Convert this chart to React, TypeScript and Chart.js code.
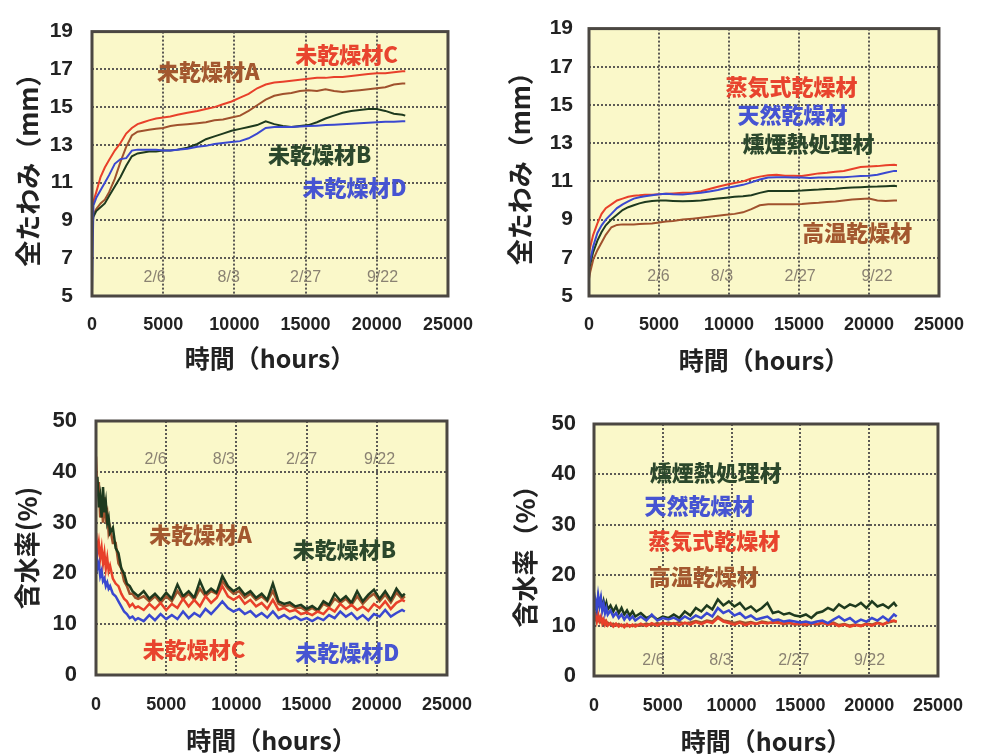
import React, { useEffect, useRef } from 'react';
import { Chart, registerables } from 'chart.js';

Chart.register(...registerables);

// ---------- shared axes ----------
const X_TICKS = [0, 5000, 10000, 15000, 20000, 25000];
const DEFL_Y_TICKS = [5, 7, 9, 11, 13, 15, 17, 19];
const MC_Y_TICKS = [0, 10, 20, 30, 40, 50];
const DATE_LABELS = ['2/6', '8/3', '2/27', '9/22'];

// ---------- deflection (top) ----------
const TOP_HOURS = [0, 100, 300, 600, 900, 1200, 1600, 2000, 2400, 2800, 3200, 3600, 4000, 4500, 5000, 5500, 6000, 6700, 7400, 8000, 8600, 9200, 9800, 10400, 11000, 11600, 12200, 12800, 13400, 14000, 14600, 15200, 15800, 16400, 17000, 17600, 18200, 18800, 19400, 20000, 20600, 21200, 21800, 22000];

const DEFL_UNDRIED_A = [8.8, 9.3, 9.6, 9.9, 10.1, 10.5, 11.2, 12.1, 12.9, 13.5, 13.7, 13.75, 13.8, 13.85, 13.9, 14.0, 14.05, 14.1, 14.15, 14.2, 14.3, 14.35, 14.45, 14.55, 14.8, 15.1, 15.4, 15.6, 15.7, 15.75, 15.85, 15.9, 15.85, 15.95, 15.85, 15.8, 15.85, 15.9, 15.95, 16.0, 16.05, 16.2, 16.25, 16.25];
const DEFL_UNDRIED_B = [8.6, 9.2, 9.5, 9.7, 9.9, 10.3, 10.8, 11.3, 11.9, 12.4, 12.55, 12.6, 12.65, 12.65, 12.7, 12.7, 12.75, 12.85, 13.05, 13.3, 13.45, 13.6, 13.75, 13.85, 13.95, 14.05, 14.25, 14.1, 14.0, 13.95, 14.0, 14.05, 14.2, 14.4, 14.55, 14.7, 14.8, 14.85, 14.9, 14.9, 14.8, 14.65, 14.6, 14.55];
const DEFL_UNDRIED_C = [9.6, 10.0, 10.5, 11.3, 11.8, 12.2, 12.7, 13.1, 13.6, 13.9, 14.1, 14.2, 14.3, 14.4, 14.45, 14.5, 14.6, 14.7, 14.8, 14.9, 15.0, 15.15, 15.3, 15.5, 15.7, 16.0, 16.2, 16.3, 16.35, 16.4, 16.45, 16.5, 16.55, 16.55, 16.6, 16.6, 16.65, 16.7, 16.75, 16.8, 16.8, 16.85, 16.9, 16.9];
const DEFL_UNDRIED_D = [5.2, 9.8, 10.2, 10.6, 11.0, 11.4, 12.0, 12.25, 12.3, 12.7, 12.75, 12.75, 12.75, 12.75, 12.7, 12.7, 12.75, 12.8, 12.9, 12.95, 13.05, 13.1, 13.15, 13.2, 13.35, 13.6, 13.9, 13.95, 13.95, 13.95, 13.97, 14.0, 14.02, 14.05, 14.07, 14.1, 14.12, 14.15, 14.17, 14.2, 14.22, 14.23, 14.25, 14.25];

const DEFL_STEAM = [7.3, 7.6, 8.2, 8.8, 9.3, 9.6, 9.8, 10.0, 10.1, 10.2, 10.25, 10.27, 10.3, 10.3, 10.33, 10.35, 10.37, 10.4, 10.42, 10.48, 10.6, 10.72, 10.82, 10.92, 11.0, 11.15, 11.25, 11.32, 11.35, 11.3, 11.3, 11.28, 11.35, 11.42, 11.45, 11.5, 11.55, 11.65, 11.75, 11.78, 11.8, 11.85, 11.87, 11.85];
const DEFL_NATURAL = [6.6, 6.9, 7.6, 8.3, 8.7, 9.0, 9.3, 9.6, 9.8, 9.95, 10.1, 10.17, 10.22, 10.28, 10.33, 10.35, 10.33, 10.32, 10.36, 10.4, 10.47, 10.55, 10.65, 10.73, 10.82, 10.95, 11.1, 11.2, 11.22, 11.22, 11.2, 11.2, 11.18, 11.2, 11.2, 11.22, 11.22, 11.25, 11.28, 11.3, 11.35, 11.45, 11.55, 11.55];
const DEFL_SMOKE = [6.4, 6.7, 7.3, 7.9, 8.35, 8.7, 9.0, 9.25, 9.5, 9.65, 9.75, 9.85, 9.92, 9.97, 10.0, 10.0, 9.98, 9.96, 9.98, 10.0, 10.05, 10.1, 10.15, 10.2, 10.22, 10.28, 10.4, 10.5, 10.5, 10.5, 10.5, 10.52, 10.55, 10.57, 10.6, 10.62, 10.65, 10.68, 10.7, 10.72, 10.73, 10.75, 10.77, 10.75];
const DEFL_HIGHTEMP = [5.9, 6.3, 6.9, 7.4, 7.8, 8.2, 8.6, 8.72, 8.75, 8.75, 8.75, 8.77, 8.78, 8.8, 8.85, 8.9, 8.93, 9.0, 9.05, 9.1, 9.15, 9.2, 9.25, 9.3, 9.38, 9.55, 9.75, 9.8, 9.8, 9.8, 9.8, 9.82, 9.85, 9.88, 9.92, 9.95, 10.0, 10.05, 10.08, 10.1, 10.0, 9.97, 10.0, 10.0];

// ---------- moisture content (bottom) ----------
const BOTTOM_HOURS = [
  0, 100, 200, 300, 400, 500, 600, 700, 800, 900,
  1000, 1200, 1400, 1600, 1800, 2000, 2200, 2400, 2600, 2800,
  3000, 3400, 3800, 4200, 4600, 5000, 5400, 5800, 6200, 6600,
  7000, 7400, 7800, 8200, 8600, 9000, 9400, 9800, 10200, 10600,
  11000, 11400, 11800, 12200, 12600, 13000, 13400, 13800, 14200, 14600,
  15000, 15400, 15800, 16200, 16600, 17000, 17400, 17800, 18200, 18600,
  19000, 19400, 19800, 20200, 20600, 21000, 21400, 21800, 22000,
];

const MC_UNDRIED_A = [
  43, 36, 38, 31, 34, 30, 35, 31, 32, 28,
  29, 26, 26, 22, 21, 18.5, 17.5, 16, 16, 15.2,
  15, 15.5, 14.5, 15.5, 14.2, 15.5, 14.5, 16.5, 15, 16,
  14.8, 17, 15.5, 16.5, 16, 18.5, 17, 16, 16.5, 15.2,
  16, 14.8, 15.5, 14.5, 16.5, 14, 13.5, 13.8, 13.2, 13.3,
  12.6, 13.2, 12.5, 14, 13.4, 15, 14.2, 15, 13.8, 15.5,
  14, 15.2, 16, 14.5, 15.8, 14.3, 16.2, 15, 15.5,
];
const MC_UNDRIED_B = [
  36, 39, 33, 35, 31, 37, 32, 34, 30, 31,
  28, 29, 25, 24, 21, 20, 18, 17.5, 16.5, 16,
  15.5, 16.5, 15, 16, 14.8, 16.2, 15, 17.8, 15.5, 16.5,
  15.2, 18.5, 16, 17, 16.2, 19.5, 17.5, 16.5, 17.2, 15.8,
  16.5, 15.2, 16, 14.8, 18, 14.5, 14, 14.3, 13.5, 13.8,
  13, 13.6, 12.8, 14.5, 13.8, 16, 14.6, 15.5, 14.2, 16.5,
  14.5, 15.8, 16.8, 15, 16.5, 14.8, 17, 15.5, 16,
];
const MC_UNDRIED_C = [
  28, 24, 26, 23, 25, 22, 24, 21, 23, 20.5,
  21.5, 19, 18, 17.5, 16, 15, 14.5, 13.5, 14, 13.2,
  13.5, 12.8, 14, 13, 14.2, 12.8, 14, 13.2, 15, 13.5,
  14.8, 13.5, 15.5, 14.2, 15.2, 17.5, 15.5, 14.8, 15.5, 14,
  14.8, 13.5, 14.2, 13, 14.8, 12.8, 13.2, 12.5, 12.8, 12,
  12.3, 11.8, 12.5, 12, 13.2, 12.5, 14, 13, 13.8, 12.8,
  13.5, 12.6, 14, 13.2, 14.5, 13, 14.2, 14.8, 14.5,
];
const MC_UNDRIED_D = [
  25, 21, 22, 19.5, 20.5, 18.5, 19, 17.5, 18.2, 17,
  17.5, 16, 15.5, 14.5, 13.5, 12.5, 12, 11.2, 11.5, 10.8,
  11.2, 10.6, 11.8, 10.8, 12, 11, 11.8, 11, 12.5, 11.2,
  12.2, 11.5, 13, 12, 13.2, 14.5, 13.2, 12.5, 13, 12,
  12.6, 11.5, 12.2, 11.3, 12.5, 11.2, 11.8, 11, 11.5, 10.8,
  11.2, 10.6, 11.3, 10.8, 11.8, 11.2, 12.5, 11.5, 12.2, 11,
  11.8, 10.8, 12, 11.5, 12.8, 11.5, 12.2, 12.8, 12.5,
];

const MC_SMOKE = [
  13, 14.5, 13.2, 15.5, 14, 15.2, 13.5, 14.8, 13.5, 14.5,
  13.2, 14, 12.8, 13.8, 12.5, 13.5, 12.2, 13, 12, 12.8,
  11.8, 12.5, 11.5, 12, 11.2, 11.8, 11.5, 12.2, 11.5, 12.8,
  12, 13.5, 12.8, 14, 13.2, 15.2, 14, 14.8, 13.8, 14.5,
  13.2, 13.8, 12.8, 13.5, 14.5, 12.5, 12.8, 12.2, 12.5, 12,
  11.8, 12.2, 11.5, 12.5, 12.8, 13.5, 13, 14.2, 13.5, 14.2,
  13.8, 14.5, 13.5, 14.8, 13.8, 14.2, 13.5, 14.5, 13.8,
];
const MC_NATURAL = [
  12.5, 15, 13.5, 16, 14, 15.5, 13, 14.2, 12.5, 13.5,
  12.2, 13, 11.8, 12.5, 11.5, 12.2, 11.2, 12, 11.2, 11.8,
  11, 11.8, 11, 12.2, 11, 11.5, 11.2, 11.6, 11, 11.8,
  11.2, 12, 11.5, 12.5, 11.8, 13.5, 12.5, 13, 12, 12.5,
  11.5, 12, 11.2, 11.5, 11.8, 11, 11.2, 10.8, 11, 10.8,
  10.6, 10.8, 10.5, 10.8, 11, 10.5, 11.2, 11.8, 11, 11.5,
  10.6, 11.2, 10.8, 11.5, 11, 11.8, 11, 12.2, 11.8,
];
const MC_STEAM = [
  11, 12, 10.8, 12.2, 11, 11.8, 10.5, 11.2, 10.2, 10.8,
  10, 10.5, 9.8, 10.4, 9.8, 10.2, 9.7, 10.3, 9.8, 10.2,
  9.8, 10.4, 9.9, 10.5, 10, 10.6, 10.2, 10.5, 10.1, 10.6,
  10.2, 10.7, 10.3, 10.8, 10.5, 11.5, 10.8, 10.5, 10.2, 10.6,
  10.1, 10.5, 10.3, 10.6, 10.4, 10.7, 10.5, 10.4, 10.6, 10.3,
  10.4, 10.2, 10.5, 10.3, 10.6, 10.2, 10.4, 9.9, 10.2, 9.8,
  10.1, 9.9, 10.3, 10, 10.5, 10.2, 10.8, 11, 10.8,
];
const MC_HIGHTEMP = [
  11.5, 11.2, 11.8, 11, 11.5, 10.8, 11.2, 10.5, 10.9, 10.3,
  10.6, 10.2, 10.4, 10, 10.3, 9.9, 10.2, 9.9, 10.1, 9.9,
  10.2, 10, 10.4, 10.1, 10.5, 10.2, 10.6, 10.3, 10.7, 10.4,
  10.6, 10.9, 10.6, 11, 10.8, 11.8, 11, 10.8, 10.5, 10.8,
  10.5, 10.7, 10.4, 10.8, 10.6, 10.5, 10.7, 10.3, 10.5, 10.2,
  10.3, 10.1, 10.4, 10.2, 10.5, 10.3, 10.6, 10.1, 10.3, 10,
  10.2, 10, 10.4, 10.2, 10.6, 10.3, 10.6, 10.9, 10.7,
];

// ---------- styles ----------
const NUM_FONT = "'Liberation Sans', Arial, sans-serif";
const JP_FONT = "'Noto Sans CJK JP', 'Noto Sans CJK SC', sans-serif";
const PLOT_BG = '#FAF8C9';
const GRID_COLOR = '#5c5a55';
const FRAME_COLOR = '#4b4742';
const TEXT_COLOR = '#222222';
const DATE_COLOR = '#8a8272';

const C_BROWN = '#A0522D';
const C_GREEN = '#1E3A1E';
const C_RED = '#E8402A';
const C_BLUE = '#3A48D0';
const L_BROWN = '#A3582F';
const L_GREEN = '#2C482C';
const L_RED = '#E8442E';
const L_BLUE = '#4654D2';

type Series = { label: string; data: number[]; color: string };
type Note = { text: string; x: number; y: number; color: string };
type PanelCfg = {
  left: number; top: number; width: number; height: number;
  area: { l: number; r: number; t: number; b: number };
  yMin: number; yMax: number; yTicks: number[];
  yTitle: string; yTitlePad: number; yTickPad: number; yTickSize: number;
  xTickPad: number; xTitlePad: number; lineWidth: number;
  hours: number[]; series: Series[]; notes: Note[];
  dateHours: number[]; dateY: number;
};

const PANELS: PanelCfg[] = [
  {
    left: 0, top: 0, width: 491, height: 378,
    area: { l: 92, r: 450, t: 18, b: 296 },
    yMin: 5, yMax: 19, yTicks: DEFL_Y_TICKS,
    yTitle: '全たわみ（mm）', yTitlePad: 13, yTickPad: 19, yTickSize: 21,
    xTickPad: 18, xTitlePad: 5, lineWidth: 2,
    hours: TOP_HOURS,
    series: [
      { label: '未乾燥材D', data: DEFL_UNDRIED_D, color: C_BLUE },
      { label: '未乾燥材C', data: DEFL_UNDRIED_C, color: C_RED },
      { label: '未乾燥材B', data: DEFL_UNDRIED_B, color: C_GREEN },
      { label: '未乾燥材A', data: DEFL_UNDRIED_A, color: C_BROWN },
    ],
    notes: [
      { text: '未乾燥材A', x: 8170, y: 16.88, color: L_BROWN },
      { text: '未乾燥材C', x: 17880, y: 17.79, color: L_RED },
      { text: '未乾燥材B', x: 15990, y: 12.5, color: L_GREEN },
      { text: '未乾燥材D', x: 18440, y: 10.74, color: L_BLUE },
    ],
    dateHours: [4400, 9600, 15000, 20400], dateY: 5.96,
  },
  {
    left: 491, top: 0, width: 491, height: 378,
    area: { l: 98, r: 456, t: 18, b: 296 },
    yMin: 5, yMax: 19, yTicks: DEFL_Y_TICKS,
    yTitle: '全たわみ（mm）', yTitlePad: 14, yTickPad: 16, yTickSize: 21,
    xTickPad: 18, xTitlePad: 3, lineWidth: 2,
    hours: TOP_HOURS,
    series: [
      { label: '天然乾燥材', data: DEFL_NATURAL, color: C_BLUE },
      { label: '蒸気式乾燥材', data: DEFL_STEAM, color: C_RED },
      { label: '燻煙熱処理材', data: DEFL_SMOKE, color: C_GREEN },
      { label: '高温乾燥材', data: DEFL_HIGHTEMP, color: C_BROWN },
    ],
    notes: [
      { text: '蒸気式乾燥材', x: 14460, y: 15.98, color: L_RED },
      { text: '天然乾燥材', x: 14530, y: 14.52, color: L_BLUE },
      { text: '燻煙熱処理材', x: 15680, y: 13.0, color: L_GREEN },
      { text: '高温乾燥材', x: 19170, y: 8.32, color: L_BROWN },
    ],
    dateHours: [4960, 9500, 15080, 20570], dateY: 6.0,
  },
  {
    left: 0, top: 378, width: 491, height: 378,
    area: { l: 96, r: 450, t: 43, b: 297 },
    yMin: 0, yMax: 50, yTicks: MC_Y_TICKS,
    yTitle: '含水率(%)', yTitlePad: 12, yTickPad: 19, yTickSize: 22,
    xTickPad: 19, xTitlePad: 1, lineWidth: 2.5,
    hours: BOTTOM_HOURS,
    series: [
      { label: '未乾燥材D', data: MC_UNDRIED_D, color: C_BLUE },
      { label: '未乾燥材C', data: MC_UNDRIED_C, color: C_RED },
      { label: '未乾燥材B', data: MC_UNDRIED_B, color: C_GREEN },
      { label: '未乾燥材A', data: MC_UNDRIED_A, color: C_BROWN },
    ],
    notes: [
      { text: '未乾燥材A', x: 7450, y: 27.56, color: L_BROWN },
      { text: '未乾燥材B', x: 17690, y: 24.6, color: L_GREEN },
      { text: '未乾燥材C', x: 6990, y: 4.92, color: L_RED },
      { text: '未乾燥材D', x: 17900, y: 4.33, color: L_BLUE },
    ],
    dateHours: [4240, 9110, 14650, 20200], dateY: 42.5,
  },
  {
    left: 491, top: 378, width: 491, height: 378,
    area: { l: 103, r: 462, t: 46, b: 298 },
    yMin: 0, yMax: 50, yTicks: MC_Y_TICKS,
    yTitle: '含水率（%）', yTitlePad: 19, yTickPad: 18, yTickSize: 22,
    xTickPad: 19, xTitlePad: 0, lineWidth: 2.5,
    hours: BOTTOM_HOURS,
    series: [
      { label: '天然乾燥材', data: MC_NATURAL, color: C_BLUE },
      { label: '蒸気式乾燥材', data: MC_STEAM, color: C_RED },
      { label: '燻煙熱処理材', data: MC_SMOKE, color: C_GREEN },
      { label: '高温乾燥材', data: MC_HIGHTEMP, color: C_BROWN },
    ],
    notes: [
      { text: '燻煙熱処理材', x: 8840, y: 40.3, color: L_GREEN },
      { text: '天然乾燥材', x: 7660, y: 33.9, color: L_BLUE },
      { text: '蒸気式乾燥材', x: 8740, y: 26.8, color: L_RED },
      { text: '高温乾燥材', x: 7970, y: 19.8, color: L_BROWN },
    ],
    dateHours: [4320, 9190, 14520, 20020], dateY: 2.98,
  },
];

function makeDecor(cfg: PanelCfg) {
  return {
    id: 'decor',
    beforeDraw(chart: any) {
      const { ctx, chartArea: a } = chart;
      ctx.save();
      ctx.fillStyle = PLOT_BG;
      ctx.fillRect(a.left, a.top, a.right - a.left, a.bottom - a.top);
      ctx.restore();
    },
    beforeDatasetsDraw(chart: any) {
      const { ctx } = chart;
      const xs = chart.scales.x;
      const ys = chart.scales.y;
      ctx.save();
      ctx.font = `16px ${NUM_FONT}`;
      ctx.fillStyle = DATE_COLOR;
      ctx.textAlign = 'center';
      ctx.textBaseline = 'middle';
      DATE_LABELS.forEach((t, i) => {
        ctx.fillText(t, xs.getPixelForValue(cfg.dateHours[i]), ys.getPixelForValue(cfg.dateY));
      });
      ctx.restore();
    },
    afterDatasetsDraw(chart: any) {
      const { ctx, chartArea: a } = chart;
      const xs = chart.scales.x;
      const ys = chart.scales.y;
      ctx.save();
      ctx.strokeStyle = FRAME_COLOR;
      ctx.lineWidth = 3;
      ctx.strokeRect(a.left, a.top, a.right - a.left, a.bottom - a.top);
      ctx.font = `900 22px ${JP_FONT}`;
      ctx.textAlign = 'center';
      ctx.textBaseline = 'middle';
      cfg.notes.forEach((n) => {
        ctx.fillStyle = n.color;
        ctx.fillText(n.text, xs.getPixelForValue(n.x), ys.getPixelForValue(n.y));
      });
      ctx.restore();
    },
  };
}

function Panel({ cfg }: { cfg: PanelCfg }) {
  const ref = useRef<HTMLCanvasElement | null>(null);
  useEffect(() => {
    if (!ref.current) return;
    const { area, width, height } = cfg;
    const gridOpts = { color: GRID_COLOR, lineWidth: 2, drawTicks: false };
    const chart = new Chart(ref.current, {
      type: 'line',
      data: {
        datasets: cfg.series.map((s) => ({
          label: s.label,
          data: cfg.hours.map((h, i) => ({ x: h, y: s.data[i] })),
          borderColor: s.color,
          backgroundColor: s.color,
          borderWidth: cfg.lineWidth,
          pointRadius: 0,
          tension: 0,
          fill: false,
        })),
      },
      options: {
        responsive: false,
        animation: false,
        devicePixelRatio: 1,
        events: [],
        layout: { padding: { left: 0, right: width - area.r, top: area.t, bottom: 0 } },
        plugins: { legend: { display: false }, tooltip: { enabled: false } },
        scales: {
          x: {
            type: 'linear',
            min: 0,
            max: 25000,
            afterBuildTicks: (s: any) => { s.ticks = X_TICKS.map((v) => ({ value: v })); },
            afterFit: (s: any) => { s.height = height - area.b; },
            ticks: {
              autoSkip: false,
              maxRotation: 0,
              padding: cfg.xTickPad,
              color: TEXT_COLOR,
              font: { family: NUM_FONT, size: 18, weight: 'bold' },
              callback: (v: any) => String(v),
            },
            grid: gridOpts,
            border: { display: false, dash: [2, 2] },
            title: {
              display: true,
              text: '時間（hours）',
              color: TEXT_COLOR,
              font: { family: JP_FONT, size: 25, weight: 'bold' },
              padding: { top: 0, bottom: cfg.xTitlePad },
            },
          },
          y: {
            type: 'linear',
            min: cfg.yMin,
            max: cfg.yMax,
            afterBuildTicks: (s: any) => { s.ticks = cfg.yTicks.map((v) => ({ value: v })); },
            afterFit: (s: any) => { s.width = area.l; },
            ticks: {
              padding: cfg.yTickPad,
              color: TEXT_COLOR,
              font: { family: NUM_FONT, size: cfg.yTickSize, weight: 'bold' },
              callback: (v: any) => String(v),
            },
            grid: gridOpts,
            border: { display: false, dash: [2, 2] },
            title: {
              display: true,
              text: cfg.yTitle,
              color: TEXT_COLOR,
              font: { family: JP_FONT, size: 26, weight: 'bold' },
              padding: { top: cfg.yTitlePad, bottom: 0 },
            },
          },
        },
      } as any,
      plugins: [makeDecor(cfg)],
    });
    return () => chart.destroy();
  }, [cfg]);
  return (
    <canvas
      ref={ref}
      width={cfg.width}
      height={cfg.height}
      style={{ position: 'absolute', left: cfg.left, top: cfg.top, width: cfg.width, height: cfg.height }}
    />
  );
}

export default function App() {
  return (
    <div style={{ position: 'absolute', left: 0, top: 0, width: 982, height: 756, background: '#ffffff' }}>
      {PANELS.map((p, i) => (
        <Panel key={i} cfg={p} />
      ))}
    </div>
  );
}
